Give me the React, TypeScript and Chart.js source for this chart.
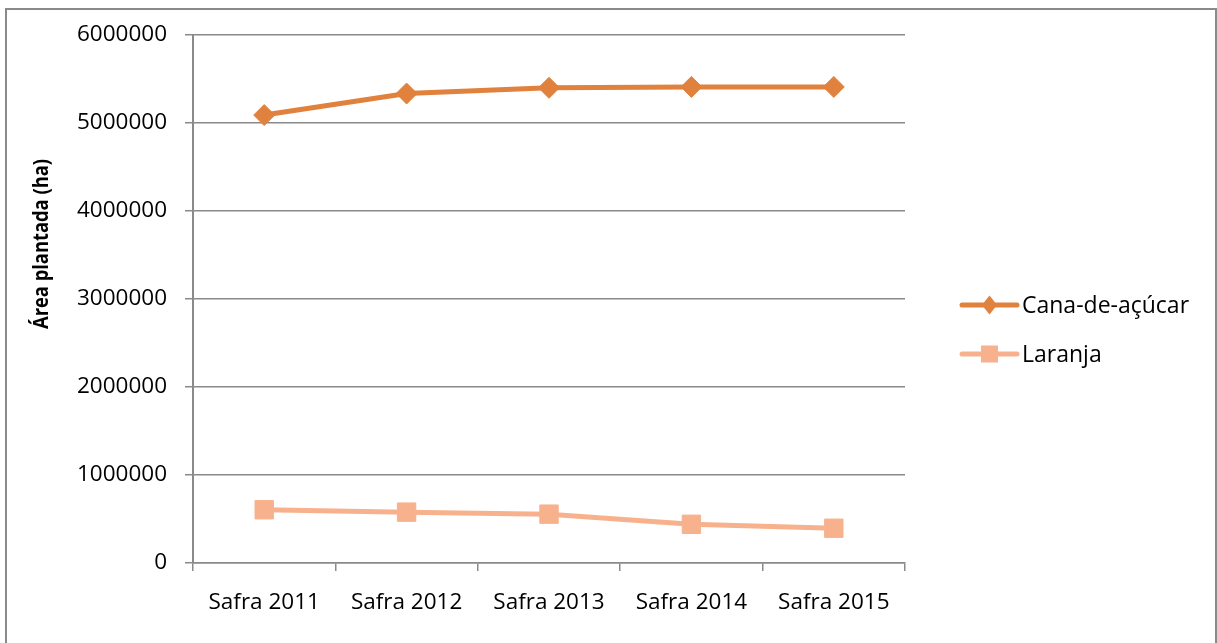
import React, { useEffect, useRef } from "react";
import { Chart, registerables } from "chart.js";

Chart.register(...registerables);

const categories = ["Safra 2011", "Safra 2012", "Safra 2013", "Safra 2014", "Safra 2015"];
const canaValues = [5090000, 5335000, 5400000, 5410000, 5410000];
const laranjaValues = [605000, 578000, 555000, 440000, 395000];
const seriesNames = ["Cana-de-açúcar", "Laranja"];
const yTicksMax = 6000000;
const yTicksStep = 1000000;
const yTitle = "Área plantada (ha)";

const CANA = "#E0823D";
const LARANJA = "#F7B28D";
const GRID = "#8a8a8a";
const FONT = "'Open Sans', sans-serif";

const sidePlugin = {
  id: "sideDecor",
  afterDraw(chart: any) {
    const { ctx, chartArea } = chart;
    ctx.save();
    // y-axis title
    ctx.translate(35, chartArea.top + 209);
    ctx.rotate(-Math.PI / 2);
    ctx.font = `bold 21px ${FONT}`;
    const w = ctx.measureText(yTitle).width;
    ctx.scale(Math.min(1, 170 / w), 1);
    ctx.fillStyle = "#000";
    ctx.textAlign = "center";
    ctx.textBaseline = "middle";
    ctx.fillText(yTitle, 0, 0);
    ctx.restore();

    // legend
    chart.data.datasets.forEach((ds: any, i: number) => {
      const y = chartArea.top + 270 + i * 49;
      const x0 = chartArea.right + 57;
      const x1 = chartArea.right + 112;
      const cx = (x0 + x1) / 2;
      ctx.save();
      ctx.strokeStyle = ds.borderColor;
      ctx.lineWidth = 5;
      ctx.lineCap = "round";
      ctx.beginPath();
      ctx.moveTo(x0, y);
      ctx.lineTo(x1, y);
      ctx.stroke();
      ctx.fillStyle = ds.pointBackgroundColor;
      ctx.beginPath();
      if (ds.pointStyle === "rectRot") {
        const r = 9.5;
        ctx.moveTo(cx - r * 0.8, y);
        ctx.lineTo(cx, y - r);
        ctx.lineTo(cx + r * 0.8, y);
        ctx.lineTo(cx, y + r);
        ctx.closePath();
      } else {
        const s = 8.5;
        ctx.rect(cx - s, y - s, 2 * s, 2 * s);
      }
      ctx.fill();
      ctx.fillStyle = "#000";
      ctx.font = `23px ${FONT}`;
      ctx.textAlign = "left";
      ctx.textBaseline = "middle";
      ctx.fillText(ds.label, x1 + 5, y + 1);
      ctx.restore();
    });
  },
};

export default function App() {
  const ref = useRef<HTMLCanvasElement | null>(null);
  useEffect(() => {
    if (!ref.current) return;
    const chart = new Chart(ref.current, {
      type: "line",
      data: {
        labels: categories,
        datasets: [
          {
            label: seriesNames[0],
            data: canaValues,
            borderColor: CANA,
            backgroundColor: CANA,
            pointBackgroundColor: CANA,
            pointBorderColor: CANA,
            borderWidth: 5,
            pointStyle: "rectRot",
            pointRadius: 10.5,
            pointBorderWidth: 1,
            tension: 0,
          },
          {
            label: seriesNames[1],
            data: laranjaValues,
            borderColor: LARANJA,
            backgroundColor: LARANJA,
            pointBackgroundColor: LARANJA,
            pointBorderColor: LARANJA,
            borderWidth: 5,
            pointStyle: "rect",
            pointRadius: 13,
            pointBorderWidth: 1,
            tension: 0,
          },
        ],
      },
      options: {
        animation: false,
        responsive: true,
        maintainAspectRatio: false,
        layout: { padding: { top: 25, right: 309, left: 0, bottom: 0 } },
        plugins: { legend: { display: false }, tooltip: { enabled: false } },
        scales: {
          x: {
            offset: true,
            grid: {
              offset: true,
              drawOnChartArea: false,
              drawTicks: true,
              tickLength: 8,
              color: GRID,
              lineWidth: 1.5,
            },
            border: { color: GRID, width: 1.5 },
            ticks: { color: "#000", font: { family: FONT, size: 22.5 }, padding: 18, maxRotation: 0 },
            afterFit: (s: any) => {
              s.height = 80;
              s.paddingLeft = 0;
              s.paddingRight = 0;
            },
          },
          y: {
            min: 0,
            max: yTicksMax,
            grid: { color: GRID, lineWidth: 1.5, tickLength: 8 },
            border: { color: GRID, width: 2 },
            ticks: {
              stepSize: yTicksStep,
              color: "#000",
              font: { family: FONT, size: 22.5 },
              padding: 18,
              callback: (v: any) => String(v),
            },
            afterFit: (s: any) => {
              s.width = 186;
              s.paddingTop = 0;
              s.paddingBottom = 0;
            },
          },
        },
      },
      plugins: [sidePlugin],
    });
    return () => chart.destroy();
  }, []);

  return (
    <div
      style={{
        position: "fixed",
        left: 5,
        top: 8,
        width: 1212,
        height: 640,
        border: "2px solid #8a8a8a",
        boxSizing: "border-box",
        background: "#fff",
      }}
    >
      <div style={{ position: "absolute", left: 0, top: 0, width: 1207, height: 633 }}>
        <canvas ref={ref} />
      </div>
    </div>
  );
}
